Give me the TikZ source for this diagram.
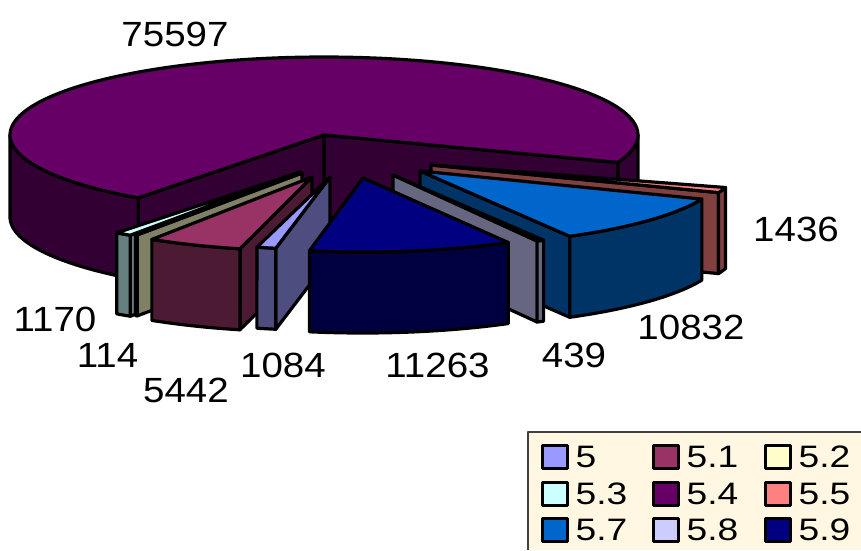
\documentclass[tikz,border=0pt]{standalone}
\usepackage{fontspec}
\setmainfont{Liberation Sans}
\definecolor{t54}{HTML}{660066}\definecolor{s54}{HTML}{330033}
\definecolor{t59}{HTML}{000080}\definecolor{s59}{HTML}{000040}
\definecolor{t57}{HTML}{0066CC}\definecolor{s57}{HTML}{003366}
\definecolor{t58}{HTML}{CCCCFF}\definecolor{s58}{HTML}{666680}
\definecolor{t55}{HTML}{FF8080}\definecolor{s55}{HTML}{804040}
\definecolor{t5}{HTML}{9999FF}\definecolor{s5}{HTML}{4D4D80}
\definecolor{t51}{HTML}{993366}\definecolor{s51}{HTML}{4D1A33}
\definecolor{t52}{HTML}{FFFFCC}\definecolor{s52}{HTML}{808066}
\definecolor{t53}{HTML}{CCFFFF}\definecolor{s53}{HTML}{668080}
\definecolor{legbg}{HTML}{FFF7E1}
\def\hh{81}
% x, y, rx, ry, a1, a2, topcolour, sidecolour, radial face (0/1/2)
\newcommand\pslice[9]{%
  \ifnum#9=1
    \filldraw[fill=#8] (#1,#2) -- ({#1+#3*cos(#5)},{#2+#4*sin(#5)}) -- ({#1+#3*cos(#5)},{#2+\hh+#4*sin(#5)}) -- ({#1},{#2+\hh}) -- cycle;
  \fi
  \ifnum#9=2
    \filldraw[fill=#8] (#1,#2) -- ({#1+#3*cos(#6)},{#2+#4*sin(#6)}) -- ({#1+#3*cos(#6)},{#2+\hh+#4*sin(#6)}) -- ({#1},{#2+\hh}) -- cycle;
  \fi
  \filldraw[fill=#8] plot[domain=#5:#6,samples=40] ({#1+#3*cos(\x)},{#2+#4*sin(\x)}) -- plot[domain=#6:#5,samples=40] ({#1+#3*cos(\x)},{#2+\hh+#4*sin(\x)}) -- cycle;
  \filldraw[fill=#7] (#1,#2) -- plot[domain=#5:#6,samples=40] ({#1+#3*cos(\x)},{#2+#4*sin(\x)}) -- cycle;
}
\tikzset{
  every path/.style={line width=3.2pt, line join=round},
  val/.style={font=\fontsize{35}{40}\selectfont, inner sep=0pt},
  legtxt/.style={font=\fontsize{31}{36}\selectfont, inner sep=0pt, anchor=base west},
  sw/.style={draw=black, line width=3pt}
}
\begin{document}
\begin{tikzpicture}[x=1pt,y=-1pt]
\useasboundingbox (0,0) rectangle (861,550);
% big slice 5.4
\def\cx{324}\def\cy{135}\def\Rx{314}\def\Ry{78}\def\HH{82}
\def\ca{20.6}\def\cb{126.3}
\filldraw[fill=s54] (\cx,\cy) -- ({\cx+\Rx*cos(\cb)},{\cy+\Ry*sin(\cb)}) -- ({\cx+\Rx*cos(\cb)},{\cy+\HH+\Ry*sin(\cb)}) -- ({\cx},{\cy+\HH}) -- cycle;
\filldraw[fill=s54] (\cx,\cy) -- ({\cx+\Rx*cos(\ca)},{\cy+\Ry*sin(\ca)}) -- ({\cx+\Rx*cos(\ca)},{\cy+\HH+\Ry*sin(\ca)}) -- ({\cx},{\cy+\HH}) -- cycle;
\filldraw[fill=s54] plot[domain=\cb:180,samples=40] ({\cx+\Rx*cos(\x)},{\cy+\Ry*sin(\x)}) -- plot[domain=180:\cb,samples=40] ({\cx+\Rx*cos(\x)},{\cy+\HH+\Ry*sin(\x)}) -- cycle;
\filldraw[fill=s54] plot[domain=0:\ca,samples=20] ({\cx+\Rx*cos(\x)},{\cy+\Ry*sin(\x)}) -- plot[domain=\ca:0,samples=20] ({\cx+\Rx*cos(\x)},{\cy+\HH+\Ry*sin(\x)}) -- cycle;
\filldraw[fill=t54] (\cx,\cy) -- plot[domain=\ca:-233.7,samples=150] ({\cx+\Rx*cos(\x)},{\cy+\Ry*sin(\x)}) -- cycle;
% left group
\pslice{300}{172}{306}{76}{123.7}{126.8}{t53}{s53}{1}
\pslice{302}{173}{300}{74}{123.3}{123.7}{t52}{s52}{1}
\pslice{312}{177}{298}{74}{104}{122.5}{t51}{s51}{1}
\pslice{330}{177}{292}{72.5}{100.7}{104.5}{t5}{s5}{1}
% right group
\pslice{431}{165}{308}{77}{17}{21}{t55}{s55}{2}
\pslice{420}{171}{304}{75}{22}{60.5}{t57}{s57}{2}
\pslice{393}{175}{304}{75}{60.3}{61.7}{t58}{s58}{2}
\pslice{363}{178}{297}{74}{60.7}{100.4}{t59}{s59}{0}
% value labels
\node[val] (l54) at (175,34) {\scalebox{1.1}[1]{75597}};
\node[val] (l55) at (796,229.5) {\scalebox{1.1}[1]{1436}};
\node[val] (l57) at (691,327.5) {\scalebox{1.1}[1]{10832}};
\node[val] (l58) at (574,355.5) {\scalebox{1.1}[1]{439}};
\node[val] (l59) at (437.5,365) {\scalebox{1.1}[1]{11263}};
\node[val] (l5) at (283,365.5) {\scalebox{1.1}[1]{1084}};
\node[val] (l51) at (186,390.5) {\scalebox{1.1}[1]{5442}};
\node[val] (l52) at (107.5,355.5) {\scalebox{1.1}[1]{114}};
\node[val] (l53) at (55,319) {\scalebox{1.1}[1]{1170}};
% legend
\fill[legbg] (528,432) rectangle (861,550);
\draw[line width=1.5pt, draw=black!75] (528,550) -- (528,432) -- (861,432);
\foreach \c/\lab/\xx/\yy in {t5/5/542/445, t51/5.1/653/445, t52/5.2/765/445,
    t53/5.3/542/482, t54/5.4/653/482, t55/5.5/765/482,
    t57/5.7/542/518, t58/5.8/653/518, t59/5.9/765/518}{
  \filldraw[sw, fill=\c] (\xx,\yy) rectangle ++(25,23);
  \node[legtxt] (lg\lab) at (\xx+32,\yy+22) {\scalebox{1.2}[1]{\lab}};
}
\end{tikzpicture}
\end{document}
